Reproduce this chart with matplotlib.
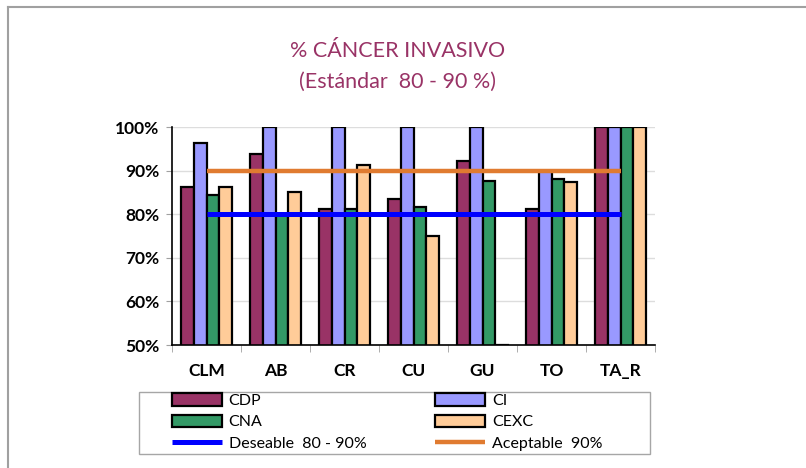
import numpy as np
import matplotlib
matplotlib.use("Agg")
import matplotlib.pyplot as plt
from matplotlib.lines import Line2D
from matplotlib.patches import Rectangle

# Chart data (percent)
categories = ["CLM", "AB", "CR", "CU", "GU", "TO", "TA_R"]
cdp = [86.3, 93.8, 81.3, 83.4, 92.3, 81.2, 100]
ci = [96.3, 100, 100, 100, 100, 90.0, 100]
cna = [84.4, 80.0, 81.3, 81.7, 87.6, 88.1, 100]
cexc = [86.2, 85.1, 91.4, 75.0, 50.0, 87.5, 100]
deseable = [80] * 7
aceptable = [90] * 7

series = [("CDP", cdp, "#993366"), ("CI", ci, "#9999FF"),
          ("CNA", cna, "#339966"), ("CEXC", cexc, "#FFCC99")]

plt.rcParams["font.family"] = ["Lato", "DejaVu Sans"]

W, H = 806, 468
fig = plt.figure(figsize=(W / 100, H / 100), dpi=100)
ax = fig.add_axes([0.2134, 0.2628, 0.5993, 0.4658])

x = np.arange(len(categories))
w = 0.185
for k, (name, vals, col) in enumerate(series):
    ax.bar(x + (k - 1.5) * w, vals, width=w, color=col, edgecolor="black",
           linewidth=1.6, label=name, zorder=2)

ax.plot(x, deseable, color="#0000FF", linewidth=3.6, label="Deseable  80 - 90%",
        zorder=3, solid_capstyle="butt")
ax.plot(x, aceptable, color="#E07B30", linewidth=3.2, label="Aceptable  90%",
        zorder=3, solid_capstyle="butt")

ax.set_xlim(-0.5, len(categories) - 0.5)
ax.set_ylim(50, 100)
ax.set_yticks(np.arange(50, 101, 10))
ax.set_yticklabels([f"{v}%" for v in range(50, 101, 10)], fontweight="bold", fontsize=12.5)
ax.set_xticks(x)
ax.set_xticklabels(categories, fontweight="bold", fontsize=12.5)
ax.set_xticks(np.arange(-0.5, len(categories), 1), minor=True)
ax.tick_params(axis="x", which="major", length=0, pad=13)
ax.tick_params(axis="x", which="minor", length=5, color="#A0A0A0", direction="out")
ax.tick_params(axis="y", length=4, color="#A0A0A0", pad=5)
ax.yaxis.grid(True, color="#DDDDDD", linewidth=1, zorder=0)
ax.set_axisbelow(True)
for s in ["top", "right"]:
    ax.spines[s].set_visible(False)
for s in ["left", "bottom"]:
    ax.spines[s].set_color("black")
    ax.spines[s].set_linewidth(1.2)

fig.text(0.493, 0.890, "% CÁNCER INVASIVO", ha="center", va="center",
         fontsize=15.5, color="#993366")
fig.text(0.493, 0.826, "(Estándar  80 - 90 %)", ha="center", va="center",
         fontsize=15.5, color="#993366")

handles, labels = ax.get_legend_handles_labels()
order = ["CDP", "CNA", "Deseable  80 - 90%", "CI", "CEXC", "Aceptable  90%"]
hmap = dict(zip(labels, handles))
leg = fig.legend([hmap[o] for o in order], order, ncol=2,
                 loc="center left", bbox_to_anchor=(172 / W, 1 - 422 / H),
                 frameon=False, fontsize=11.5, handlelength=3.1, handleheight=0.8,
                 handletextpad=0.45, columnspacing=4.3, labelspacing=0.42,
                 borderpad=0, borderaxespad=0)

# legend box
fig.add_artist(Rectangle((139 / W, 1 - 454 / H), 511 / W, 62 / H, fill=False,
                         edgecolor="#A6A6A6", linewidth=1, transform=fig.transFigure))

# outer chart border (cropped on right and bottom)
fig.add_artist(Line2D([8 / W, 1], [1 - 7 / H] * 2, color="#A0A0A0", linewidth=1.5))
fig.add_artist(Line2D([8 / W] * 2, [0, 1 - 7 / H], color="#A0A0A0", linewidth=1.5))

fig.savefig("out.png", dpi=100)
